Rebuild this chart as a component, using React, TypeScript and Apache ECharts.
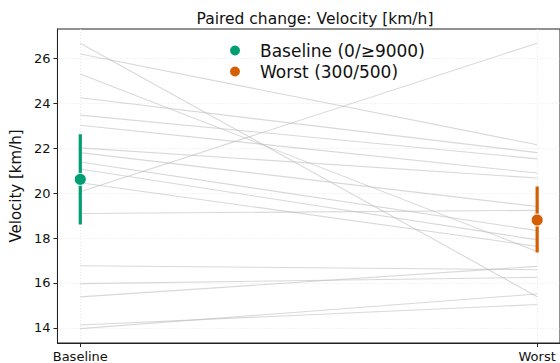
import React, { useEffect, useRef } from "react";
import * as echarts from "echarts";

const conditions = ["Baseline", "Worst"];
const seriesNames = ["Baseline (0/≥9000)", "Worst (300/500)"];
const baselineVals = [26.67, 26.19, 25.3, 24.24, 23.47, 23.02, 22.01, 21.8, 21.38, 21.07, 20.46, 20.06, 19.09, 16.77, 15.97, 15.38, 14.13, 13.97];
const worstVals = [15.39, 22.15, 17.4, 21.8, 21.52, 20.89, 20.67, 19.4, 18.33, 17.92, 17.63, 26.67, 19.23, 16.59, 16.25, 16.74, 15.04, 15.51];
const means = [20.61, 18.8];
const errLow = [18.6, 17.36];
const errHigh = [22.62, 20.29];
const yTicks = [14, 16, 18, 20, 22, 24, 26];
const colors = ["#009E73", "#D55E00"];

const FONT = "DejaVu Sans";

export default function App() {
  const ref = useRef<HTMLDivElement>(null);
  useEffect(() => {
    if (!ref.current) return;
    const chart = echarts.init(ref.current, null, { renderer: "svg" });
    const pairSeries = baselineVals.map((b, i) => ({
      type: "line",
      silent: true,
      symbol: "none",
      data: [[0, b], [1, worstVals[i]]],
      lineStyle: { color: "#b8b8b8", width: 1.1, opacity: 0.55 },
      z: 1,
    }));
    const errSeries = [0, 1].map((k) => ({
      type: "line",
      silent: true,
      symbol: "none",
      data: [[k, errLow[k]], [k, errHigh[k]]],
      lineStyle: { color: colors[k], width: 3.2 },
      z: 3,
    }));
    const meanSeries = [0, 1].map((k) => ({
      type: "scatter",
      name: seriesNames[k],
      data: [[k, means[k]]],
      symbol: "circle",
      symbolSize: 12,
      itemStyle: { color: colors[k], borderColor: "#fff", borderWidth: 1, opacity: 1 },
      z: 4,
    }));
    chart.setOption({
      animation: false,
      backgroundColor: "#fff",
      textStyle: { fontFamily: FONT },
      title: {
        text: "Paired change: Velocity [km/h]",
        left: 310,
        textAlign: "center",
        top: 6,
        textStyle: { fontFamily: FONT, fontSize: 15.5, fontWeight: "normal", color: "#111" },
      },
      legend: {
        orient: "vertical",
        left: 223,
        top: 37,
        itemGap: 4,
        itemWidth: 12,
        itemHeight: 12,
        icon: "circle",
        data: seriesNames,
        textStyle: { fontFamily: FONT, fontSize: 17, color: "#111", padding: [0, 0, 0, 14] },
      },
      grid: {
        left: 55,
        top: 29,
        width: 508,
        height: 314,
        show: true,
        borderColor: "#222",
        borderWidth: 1,
        backgroundColor: "transparent",
      },
      xAxis: {
        type: "value",
        min: -0.05,
        max: 1.05,
        axisLine: { show: true, onZero: false, lineStyle: { color: "#222" } },
        axisTick: { show: true, customValues: [0, 1], length: 4, lineStyle: { color: "#222" } },
        axisLabel: {
          customValues: [0, 1],
          formatter: (v: number) => conditions[Math.round(v)],
          fontFamily: FONT,
          fontSize: 13,
          color: "#111",
          margin: 7,
        },
        splitLine: { show: true, lineStyle: { color: "#e2e2e2", type: [1, 2], width: 0.8 } },
      },
      yAxis: {
        type: "value",
        min: 13.33,
        max: 27.3,
        name: "Velocity [km/h]",
        nameLocation: "middle",
        nameGap: 30,
        nameTextStyle: { fontFamily: FONT, fontSize: 15, color: "#111" },
        axisLine: { show: true, onZero: false, lineStyle: { color: "#222" } },
        axisTick: { show: true, customValues: yTicks, length: 4, lineStyle: { color: "#222" } },
        axisLabel: {
          customValues: yTicks,
          fontFamily: FONT,
          fontSize: 13,
          color: "#111",
          margin: 7,
        },
        splitLine: { show: true, lineStyle: { color: "#e2e2e2", type: [1, 2], width: 0.8 } },
      },
      series: [...pairSeries, ...errSeries, ...meanSeries],
    });
    return () => chart.dispose();
  }, []);
  return (
    <div
      ref={ref}
      style={{ position: "absolute", left: 0, top: 0, width: 560, height: 363 }}
    />
  );
}
